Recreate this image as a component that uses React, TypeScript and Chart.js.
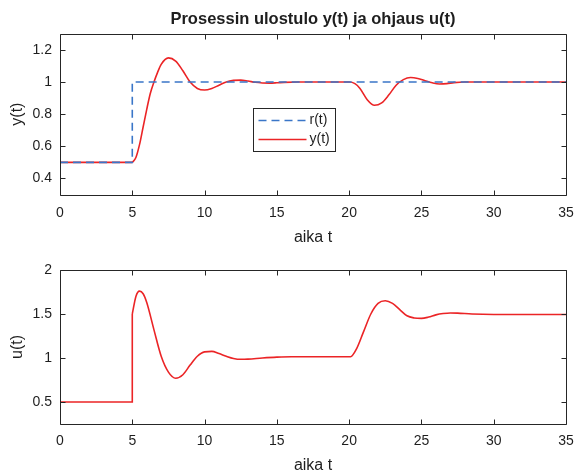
import { useEffect, useRef } from "react";
import { Chart, registerables } from "chart.js";

Chart.register(...registerables);

const FONT = '"Liberation Sans", Arial, Helvetica, sans-serif';
const TEXT = "#1e1e1e";
const RED = "rgb(235, 36, 38)";
const BLUE = "rgb(58, 118, 200)";

// ---------- data ----------
const titleText = "Prosessin ulostulo y(t) ja ohjaus u(t)";
const xLabel = "aika t";
const xTicks = [0, 5, 10, 15, 20, 25, 30, 35];
const yTicksTop = [0.4, 0.6, 0.8, 1, 1.2];
const uTicks = [0.5, 1, 1.5, 2];

// reference r(t)
const rTime = [0, 5, 5, 35];
const rValues = [0.5, 0.5, 1, 1];

// output y(t): flat part before the step, then the response
const yFlatTime = [0, 5];
const yFlatValues = [0.5, 0.5];
const yTime = [
  5, 5.25, 5.5, 5.75, 6, 6.25, 6.5, 6.75, 7, 7.5, 8, 8.5, 9, 9.5, 10, 10.5, 11,
  11.5, 12, 12.5, 13, 13.5, 14, 14.5, 15, 15.5, 16.5, 20, 20.4, 20.75, 21.25,
  21.75, 22.25, 22.75, 23.25, 23.75, 24.25, 24.75, 25.25, 25.75, 26.25, 26.75,
  27.25, 28, 35,
];
const yValues = [
  0.5, 0.53, 0.61, 0.72, 0.83, 0.93, 1.0, 1.06, 1.11, 1.15, 1.13, 1.07, 1.0,
  0.96, 0.95, 0.96, 0.98, 1.0, 1.01, 1.012, 1.006, 0.998, 0.994, 0.993, 0.995,
  0.998, 1.0, 1.0, 0.99, 0.96, 0.89, 0.855, 0.87, 0.92, 0.98, 1.015, 1.028,
  1.022, 1.008, 0.995, 0.988, 0.99, 0.996, 1.0, 1.0,
];

// control u(t): flat + jump, then the response
const uFlatTime = [0, 5, 5];
const uFlatValues = [0.5, 0.5, 1.5];
const uTime = [
  5, 5.25, 5.5, 5.75, 6, 6.5, 7, 7.5, 8, 8.5, 9, 9.5, 10, 10.5, 11, 11.5, 12,
  12.5, 13, 14, 15, 16, 20.1, 20.5, 21, 21.5, 22, 22.5, 23, 23.5, 24, 24.5, 25,
  25.5, 26, 26.5, 27, 27.5, 28.5, 30, 35,
];
const uValues = [
  1.5, 1.7, 1.76, 1.73, 1.63, 1.32, 1.02, 0.84, 0.77, 0.81, 0.92, 1.02, 1.07,
  1.075, 1.05, 1.02, 0.995, 0.985, 0.987, 1.0, 1.01, 1.015, 1.015, 1.1, 1.3,
  1.5, 1.62, 1.65, 1.62, 1.55, 1.48, 1.455, 1.45, 1.465, 1.49, 1.505, 1.512,
  1.51, 1.5, 1.495, 1.495,
];

const pts = (t: number[], v: number[]) => t.map((x, i) => ({ x, y: v[i] }));
const fmt = (v: number) => String(Math.round(v * 100) / 100);

// ---------- plugins ----------
const framePlugin = (xt: number[], yt: number[]) => ({
  id: "frameTicks",
  afterDatasetsDraw(chart: any) {
    const { ctx, chartArea, scales } = chart;
    const { left, right, top, bottom } = chartArea;
    const L = Math.round(left) + 0.5;
    const R = Math.round(right) + 0.5;
    const T = Math.round(top) + 0.5;
    const B = Math.round(bottom) + 0.5;
    ctx.save();
    ctx.strokeStyle = "#262626";
    ctx.lineWidth = 1;
    ctx.beginPath();
    ctx.rect(L, T, R - L, B - T);
    const len = 5;
    xt.forEach((v) => {
      const px = Math.round(scales.x.getPixelForValue(v)) + 0.5;
      ctx.moveTo(px, B);
      ctx.lineTo(px, B - len);
      ctx.moveTo(px, T);
      ctx.lineTo(px, T + len);
    });
    yt.forEach((v) => {
      const py = Math.round(scales.y.getPixelForValue(v)) + 0.5;
      ctx.moveTo(L, py);
      ctx.lineTo(L + len, py);
      ctx.moveTo(R, py);
      ctx.lineTo(R - len, py);
    });
    ctx.stroke();
    ctx.restore();
  },
});

const legendPlugin = {
  id: "boxLegend",
  afterDraw(chart: any) {
    const { ctx, chartArea } = chart;
    const bx = Math.round(chartArea.left + 193) + 0.5;
    const by = Math.round(chartArea.top + 74) + 0.5;
    const bw = 82;
    const bh = 43;
    ctx.save();
    ctx.fillStyle = "#ffffff";
    ctx.fillRect(bx, by, bw, bh);
    ctx.strokeStyle = "#262626";
    ctx.lineWidth = 1;
    ctx.strokeRect(bx, by, bw, bh);
    const rows = [
      { label: "r(t)", color: BLUE, dash: [8, 5], dy: 12 },
      { label: "y(t)", color: RED, dash: [], dy: 31 },
    ];
    ctx.font = `14px ${FONT}`;
    ctx.textBaseline = "middle";
    ctx.textAlign = "left";
    rows.forEach((r) => {
      const yy = by + r.dy;
      ctx.beginPath();
      ctx.setLineDash(r.dash);
      ctx.strokeStyle = r.color;
      ctx.lineWidth = 1.6;
      ctx.moveTo(bx + 5, yy);
      ctx.lineTo(bx + 53, yy);
      ctx.stroke();
      ctx.setLineDash([]);
      ctx.fillStyle = TEXT;
      ctx.fillText(r.label, bx + 56, yy);
    });
    ctx.restore();
  },
};

// ---------- chart builders ----------
function makeOptions(opts: {
  yMin: number;
  yMax: number;
  yTicks: number[];
  yTitle: string;
  xAxisHeight: number;
  xTickPad: number;
  xTitlePad: number;
  title?: string;
  padTop: number;
}) {
  return {
    responsive: false,
    animation: false as const,
    layout: { padding: { left: 0, right: 13, top: opts.padTop, bottom: 0 } },
    plugins: {
      legend: { display: false },
      tooltip: { enabled: false },
      title: opts.title
        ? {
            display: true,
            text: opts.title,
            fullSize: false,
            color: TEXT,
            font: { family: FONT, size: 16.5, weight: "bold" as const, lineHeight: 1.2 },
            padding: { top: 10, bottom: 4 },
          }
        : { display: false },
    },
    scales: {
      x: {
        type: "linear" as const,
        min: 0,
        max: 35,
        afterBuildTicks: (s: any) => {
          s.ticks = xTicks.map((v) => ({ value: v }));
        },
        afterFit: (s: any) => {
          s.height = opts.xAxisHeight;
          s.paddingLeft = 0;
          s.paddingRight = 0;
        },
        grid: { display: false, drawTicks: false },
        border: { display: false },
        ticks: {
          color: TEXT,
          font: { family: FONT, size: 14, lineHeight: 1.2 },
          padding: opts.xTickPad,
          maxRotation: 0,
          callback: (v: any) => fmt(Number(v)),
        },
        title: {
          display: true,
          text: xLabel,
          color: TEXT,
          font: { family: FONT, size: 16, lineHeight: 1.2 },
          padding: { top: 0, bottom: opts.xTitlePad },
        },
      },
      y: {
        type: "linear" as const,
        min: opts.yMin,
        max: opts.yMax,
        afterBuildTicks: (s: any) => {
          s.ticks = opts.yTicks.map((v) => ({ value: v }));
        },
        afterFit: (s: any) => {
          s.width = 60;
          s.paddingTop = 0;
          s.paddingBottom = 0;
        },
        grid: { display: false, drawTicks: false },
        border: { display: false },
        ticks: {
          color: TEXT,
          font: { family: FONT, size: 14, lineHeight: 1.2 },
          padding: 8,
          callback: (v: any) => fmt(Number(v)),
        },
        title: {
          display: true,
          text: opts.yTitle,
          color: TEXT,
          font: { family: FONT, size: 16, lineHeight: 1.2 },
          padding: { top: 8, bottom: 0 },
        },
      },
    },
  };
}

const lineDs = (data: any[], color: string, smooth: boolean, dash: number[] = []) => ({
  data,
  borderColor: color,
  backgroundColor: color,
  borderWidth: 1.6,
  borderDash: dash,
  pointRadius: 0,
  fill: false,
  tension: 0,
  cubicInterpolationMode: smooth ? ("monotone" as const) : ("default" as const),
});

export default function App() {
  const topRef = useRef<HTMLCanvasElement>(null);
  const botRef = useRef<HTMLCanvasElement>(null);

  useEffect(() => {
    const c1 = new Chart(topRef.current!, {
      type: "line",
      data: {
        datasets: [
          lineDs(pts(rTime, rValues), BLUE, false, [8, 5]),
          lineDs(pts(yFlatTime, yFlatValues), RED, false),
          lineDs(pts(yTime, yValues), RED, true),
        ],
      },
      options: makeOptions({
        yMin: 0.3,
        yMax: 1.3,
        yTicks: yTicksTop,
        yTitle: "y(t)",
        xAxisHeight: 57.5,
        xTickPad: 10,
        xTitlePad: 5,
        title: titleText,
        padTop: 0,
      }) as any,
      plugins: [framePlugin(xTicks, yTicksTop), legendPlugin],
    });
    const c2 = new Chart(botRef.current!, {
      type: "line",
      data: {
        datasets: [
          lineDs(pts(uFlatTime, uFlatValues), RED, false),
          lineDs(pts(uTime, uValues), RED, true),
        ],
      },
      options: makeOptions({
        yMin: 0.25,
        yMax: 2,
        yTicks: uTicks,
        yTitle: "u(t)",
        xAxisHeight: 52,
        xTickPad: 9,
        xTitlePad: 1,
        padTop: 18,
      }) as any,
      plugins: [framePlugin(xTicks, uTicks)],
    });
    return () => {
      c1.destroy();
      c2.destroy();
    };
  }, []);

  return (
    <div
      style={{
        position: "absolute",
        left: 0,
        top: 0,
        width: 579,
        height: 476,
        background: "#ffffff",
        overflow: "hidden",
      }}
    >
      <canvas
        ref={topRef}
        width={579}
        height={252}
        style={{ position: "absolute", left: 0, top: 0, width: 579, height: 252 }}
      />
      <canvas
        ref={botRef}
        width={579}
        height={224}
        style={{ position: "absolute", left: 0, top: 252, width: 579, height: 224 }}
      />
    </div>
  );
}
